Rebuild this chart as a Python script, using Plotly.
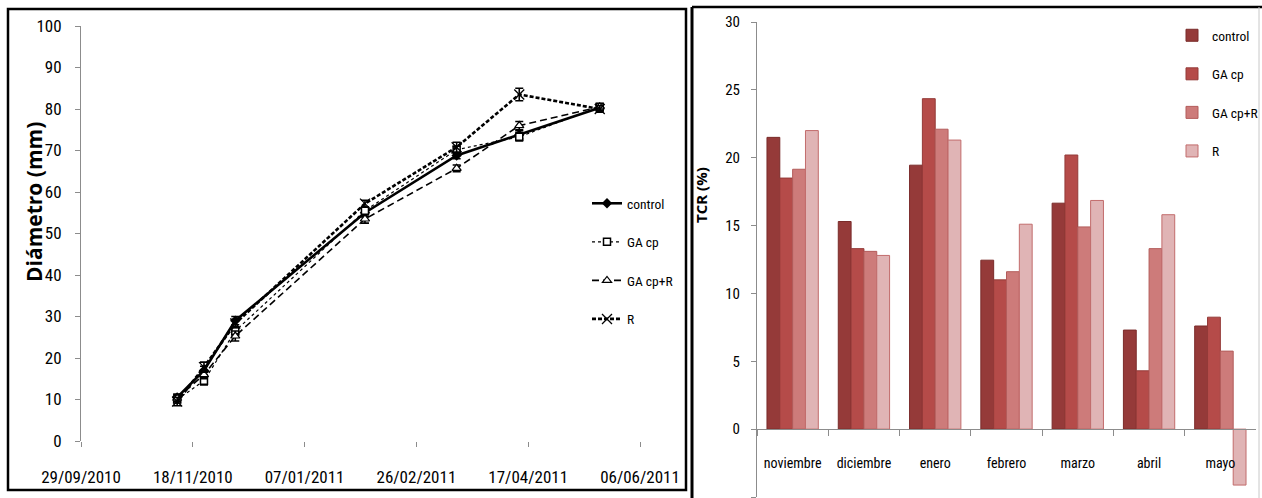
import plotly.graph_objects as go

# ---- Left panel: fruit diameter over time ----
fechas = ["2010-11-11", "2010-11-23", "2010-12-07", "2011-02-03",
          "2011-03-16", "2011-04-13", "2011-05-19"]
diam_control = [10.5, 17.0, 29.0, 55.0, 68.8, 73.8, 80.3]
diam_ga_cp = [10.0, 14.5, 26.5, 55.5, 70.2, 73.3, 80.5]
diam_ga_cp_r = [10.3, 16.0, 25.3, 53.5, 65.7, 76.0, 80.5]
diam_r = [9.5, 17.8, 28.3, 57.2, 70.8, 83.5, 80.0]

err_control = [0.8, 1.0, 1.0, 1.0, 0.8, 1.0, 0.8]
err_ga_cp = [0.8, 1.0, 1.0, 0.8, 0.8, 1.0, 0.8]
err_ga_cp_r = [0.8, 1.0, 1.2, 1.0, 0.8, 1.0, 0.8]
err_r = [1.0, 1.2, 1.0, 0.8, 1.2, 1.5, 0.8]

x_ticks = ["2010-09-29", "2010-11-18", "2011-01-07",
           "2011-02-26", "2011-04-17", "2011-06-06"]
x_ticktext = ["29/09/2010", "18/11/2010", "07/01/2011",
              "26/02/2011", "17/04/2011", "06/06/2011"]

# ---- Right panel: relative growth rate by month ----
meses = ["noviembre", "diciembre", "enero", "febrero", "marzo", "abril", "mayo"]
tcr_control = [21.5, 15.3, 19.45, 12.45, 16.65, 7.3, 7.6]
tcr_ga_cp = [18.5, 13.3, 24.35, 11.0, 20.2, 4.3, 8.25]
tcr_ga_cp_r = [19.15, 13.1, 22.1, 11.6, 14.9, 13.3, 5.75]
tcr_r = [22.0, 12.8, 21.3, 15.1, 16.85, 15.8, -4.12]

W, H = 1262, 498
NARROW = "Liberation Sans Narrow, Arial Narrow, Roboto Condensed, sans-serif"
BOLD = "Open Sans, DejaVu Sans, sans-serif"
AXIS_GREY = "#8c8c8c"


def px_x(p):
    return p / W


def px_y(p):
    return 1 - p / H


fig = go.Figure()

line_series = [
    ("control", diam_control, err_control,
     dict(color="black", width=2.6, dash="solid"),
     dict(symbol="diamond", size=8, color="black")),
    ("GA cp", diam_ga_cp, err_ga_cp,
     dict(color="black", width=1.2, dash="dot"),
     dict(symbol="square", size=7, color="white",
          line=dict(color="black", width=1.5))),
    ("GA cp+R", diam_ga_cp_r, err_ga_cp_r,
     dict(color="black", width=1.6, dash="7px,4px"),
     dict(symbol="triangle-up", size=8, color="white",
          line=dict(color="black", width=1.2))),
    ("R", diam_r, err_r,
     dict(color="black", width=2.6, dash="4px,2px"),
     dict(symbol="x-thin-open", size=10, color="black",
          line=dict(color="black", width=1.3))),
]

for name, vals, errs, ln, mk in line_series:
    fig.add_trace(go.Scatter(
        x=fechas, y=vals, name=name, mode="lines+markers",
        line=ln, marker=mk,
        error_y=dict(type="data", array=errs, visible=True,
                     color="black", thickness=1.6, width=4),
        xaxis="x", yaxis="y", legend="legend", legendgroup=name,
    ))

bar_series = [
    ("control", tcr_control, "#953a39", "#7a2b2a"),
    ("GA cp", tcr_ga_cp, "#b54b49", "#943a38"),
    ("GA cp+R", tcr_ga_cp_r, "#cd7b7a", "#b35c5b"),
    ("R", tcr_r, "#e0b4b5", "#c26c6c"),
]

for name, vals, col, edge in bar_series:
    fig.add_trace(go.Bar(
        x=meses, y=vals, name=name,
        marker=dict(color=col, line=dict(color=edge, width=1)),
        xaxis="x2", yaxis="y2", legend="legend2", legendgroup="b" + name,
    ))

fig.update_layout(
    width=W, height=H,
    margin=dict(l=0, r=0, t=0, b=0, autoexpand=False),
    paper_bgcolor="white", plot_bgcolor="white",
    barmode="group", bargap=0.28, bargroupgap=0,
    xaxis=dict(
        domain=[px_x(81), px_x(640)], anchor="y", type="date",
        range=["2010-09-29", "2011-06-06"],
        tickvals=x_ticks, ticktext=x_ticktext, tickangle=0,
        showline=False, showgrid=False, zeroline=False, automargin=False,
        ticks="outside", ticklen=5, tickcolor=AXIS_GREY,
        tickfont=dict(family=NARROW, size=17, color="black"),
        ticklabelstandoff=16,
    ),
    yaxis=dict(
        domain=[px_y(441), px_y(26)], anchor="x",
        range=[0, 100], dtick=10,
        showline=True, linecolor=AXIS_GREY, linewidth=1,
        showgrid=False, zeroline=False, automargin=False,
        ticks="outside", ticklen=5, tickcolor=AXIS_GREY,
        tickfont=dict(family=NARROW, size=17, color="black"),
        ticklabelstandoff=10,
    ),
    xaxis2=dict(
        domain=[px_x(757), px_x(1256)], anchor="free", position=px_y(429),
        type="category", tickangle=0,
        showline=True, linecolor=AXIS_GREY, linewidth=1,
        showgrid=False, zeroline=False, automargin=False,
        ticks="outside", tickson="boundaries", ticklen=6, tickcolor=AXIS_GREY,
        tickfont=dict(family=NARROW, size=14, color="black"),
        ticklabelstandoff=21,
    ),
    yaxis2=dict(
        domain=[px_y(497), px_y(22)], anchor="x2",
        range=[-5, 30], dtick=5,
        showline=True, linecolor=AXIS_GREY, linewidth=1,
        showgrid=False, zeroline=False, automargin=False,
        ticks="outside", ticklen=5, tickcolor=AXIS_GREY,
        tickfont=dict(family=NARROW, size=15, color="black"),
        ticklabelstandoff=8,
    ),
    legend=dict(
        x=px_x(587), y=px_y(188), xanchor="left", yanchor="top",
        bgcolor="rgba(0,0,0,0)", tracegroupgap=18,
        font=dict(family=NARROW, size=13.5, color="black"),
    ),
    legend2=dict(
        x=px_x(1172), y=px_y(20), xanchor="left", yanchor="top",
        bgcolor="rgba(0,0,0,0)", tracegroupgap=18,
        font=dict(family=NARROW, size=13.5, color="black"),
    ),
    annotations=[
        dict(text="<b>Diámetro (mm)</b>", textangle=-90,
             x=px_x(18), y=px_y(202), xref="paper", yref="paper",
             showarrow=False, font=dict(family=BOLD, size=21, color="black")),
        dict(text="<b>TCR (%)</b>", textangle=-90,
             x=px_x(701), y=px_y(165), xref="paper", yref="paper",
             showarrow=False, font=dict(family=BOLD, size=15, color="black")),
    ],
    shapes=[
        dict(type="rect", xref="paper", yref="paper",
             x0=px_x(8), x1=px_x(686), y0=px_y(490), y1=px_y(9),
             line=dict(color="black", width=2.5)),
        dict(type="line", xref="paper", yref="paper",
             x0=px_x(692), x1=px_x(692), y0=0, y1=px_y(7),
             line=dict(color="black", width=3)),
        dict(type="line", xref="paper", yref="paper",
             x0=px_x(692), x1=1, y0=px_y(7), y1=px_y(7),
             line=dict(color="black", width=2.5)),
        dict(type="line", xref="paper", yref="paper",
             x0=px_x(1259), x1=px_x(1259), y0=0, y1=px_y(7),
             line=dict(color="#c8c8c8", width=1)),
    ],
)

fig.write_html("out.html")
